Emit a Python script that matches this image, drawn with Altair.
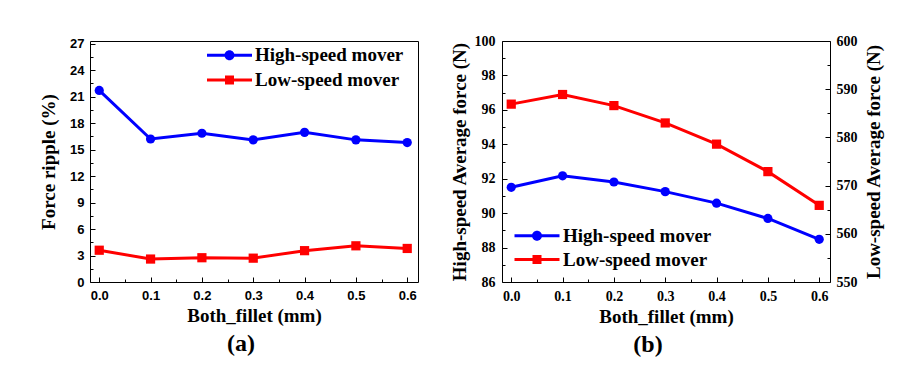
import altair as alt
import pandas as pd

# ---------------- data ----------------
fillet = [0.0, 0.1, 0.2, 0.3, 0.4, 0.5, 0.6]
series_names = ["High-speed mover", "Low-speed mover"]
series_colors = ["#0000FF", "#FF0000"]
series_shapes = ["circle", "square"]

ripple_high = [21.7, 16.2, 16.85, 16.1, 16.95, 16.1, 15.8]
ripple_low = [3.6, 2.6, 2.75, 2.7, 3.55, 4.1, 3.8]
force_high = [91.5, 92.17, 91.81, 91.25, 90.58, 89.69, 88.48]
force_low = [586.9, 588.9, 586.6, 583.0, 578.6, 572.9, 565.9]

x_major = [0.0, 0.1, 0.2, 0.3, 0.4, 0.5, 0.6]
x_minor = [0.05, 0.15, 0.25, 0.35, 0.45, 0.55]
ripple_major = [0, 3, 6, 9, 12, 15, 18, 21, 24, 27]
ripple_minor = [1.5, 4.5, 7.5, 10.5, 13.5, 16.5, 19.5, 22.5, 25.5]
high_major = [86, 88, 90, 92, 94, 96, 98, 100]
high_minor = [87, 89, 91, 93, 95, 97, 99]
low_major = [550, 560, 570, 580, 590, 600]
low_minor = [555, 565, 575, 585, 595]

x_title = "Both_fillet (mm)"
ripple_title = "Force ripple (%)"
high_title = "High-speed Average force (N)"
low_title = "Low-speed Average force (N)"
panel_titles = ["(a)", "(b)"]

# legend symbols: a filled bar (the line) with a filled marker in the middle,
# both drawn clockwise so that they merge into one filled shape
legend_paths = [
    "M-2.25,-0.15L2.25,-0.15L2.25,0.15L-2.25,0.15Z"
    "M-0.5,0A0.5,0.5 0 1,1 0.5,0A0.5,0.5 0 1,1 -0.5,0Z",
    "M-2.25,-0.15L2.25,-0.15L2.25,0.15L-2.25,0.15Z"
    "M-0.45,-0.45L0.45,-0.45L0.45,0.45L-0.45,0.45Z",
]

df_a = pd.DataFrame({
    "fillet": fillet + fillet,
    "value": ripple_high + ripple_low,
    "series": [series_names[0]] * len(fillet) + [series_names[1]] * len(fillet),
})
df_b_high = pd.DataFrame({"fillet": fillet, "value": force_high, "series": series_names[0]})
df_b_low = pd.DataFrame({"fillet": fillet, "value": force_low, "series": series_names[1]})

# ---------------- styling helpers ----------------
SERIF = "Liberation Serif"
SANS = "Liberation Sans"
W, H = 328, 241
TITLE_SIZE = 19


def neg(v):
    return {"expr": str(-v)}


def major_axis(orient, values, title, label_font, label_size, fmt=None,
               label_pad=11, title_pad=10, title_angle=None, title_baseline=None):
    kw = dict(orient=orient, values=values, title=title, tickSize=neg(5),
              tickColor="black", tickWidth=1, labelPadding=label_pad,
              labelFont=label_font, labelFontSize=label_size, labelFontWeight="bold",
              labelColor="black", labelFlush=False, labelOverlap=False,
              titleFont=SERIF, titleFontSize=TITLE_SIZE, titleFontWeight="bold",
              titleColor="black", titlePadding=title_pad, domain=False, grid=False)
    if fmt:
        kw["format"] = fmt
    if title_angle is not None:
        kw["titleAngle"] = title_angle
    if title_baseline is not None:
        kw["titleBaseline"] = title_baseline
    return alt.Axis(**kw)


def minor_axis(orient, values):
    return alt.Axis(orient=orient, values=values, title=None, labels=False,
                    tickSize=neg(3), tickColor="black", tickWidth=1,
                    domain=False, grid=False)


xs = alt.Scale(domain=[-0.018, 0.621], nice=False, zero=False)
color = alt.Color("series:N", scale=alt.Scale(domain=series_names, range=series_colors), legend=None)
shape = alt.Shape("series:N", scale=alt.Scale(domain=series_names, range=series_shapes), legend=None)


def legend_layer(base, yscale, idx, lx, ly, offset):
    """One-entry legend (line + marker symbol) for series idx, from an invisible layer."""
    leg = alt.Legend(title=None, orient="none", legendX=lx, legendY=ly,
                     symbolSize=400, symbolStrokeWidth=0, symbolOpacity=1,
                     symbolFillColor=series_colors[idx], symbolStrokeColor=series_colors[idx],
                     labelFont=SERIF, labelFontSize=TITLE_SIZE, labelFontWeight="bold",
                     labelColor="black", labelOffset=offset, labelLimit=400, padding=0)
    return base.mark_point(filled=True, opacity=0, clip=True,
                           fill=series_colors[idx], fillOpacity=1).encode(
        x=alt.X("fillet:Q", scale=xs, axis=None),
        y=alt.Y("value:Q", scale=yscale, axis=None),
        shape=alt.Shape("series:N",
                        scale=alt.Scale(domain=[series_names[idx]], range=[legend_paths[idx]]),
                        legend=leg),
    )


def panel_title(text, dx):
    return alt.TitleParams(text, orient="bottom", font=SERIF, fontSize=24,
                           fontWeight="bold", color="black", offset=7, anchor="middle",
                           frame="group", dx=dx)


# ---------------- panel (a) ----------------
ys_a = alt.Scale(domain=[0, 27.3], nice=False, zero=False)
base_a = alt.Chart(df_a)
line_a = base_a.mark_line(strokeWidth=3).encode(
    x=alt.X("fillet:Q", scale=xs, axis=major_axis("bottom", x_major, x_title, SANS, 13, ".1f", label_pad=12, title_pad=4)),
    y=alt.Y("value:Q", scale=ys_a, axis=major_axis("left", ripple_major, ripple_title, SANS, 13, label_pad=11, title_pad=11)),
    color=color,
)
pts_a = base_a.mark_point(filled=True, size=85, opacity=1).encode(
    x=alt.X("fillet:Q", scale=xs, axis=None),
    y=alt.Y("value:Q", scale=ys_a, axis=None),
    color=color, shape=shape,
)
leg_a1 = legend_layer(base_a, ys_a, 0, 129.5, 4.3, 15.5)
leg_a2 = legend_layer(base_a, ys_a, 1, 129.5, 29.0, 15.5)
minor_a = base_a.mark_point(opacity=0, clip=True).encode(
    x=alt.X("fillet:Q", scale=xs, axis=minor_axis("bottom", x_minor)),
    y=alt.Y("value:Q", scale=ys_a, axis=minor_axis("left", ripple_minor)),
)
panel_a = alt.layer(line_a, pts_a, leg_a1, leg_a2, minor_a).resolve_scale(
    shape="independent"
).resolve_axis(x="independent", y="independent").properties(
    width=W, height=H, title=panel_title(panel_titles[0], -13),
)

# ---------------- panel (b) ----------------
ys_hi = alt.Scale(domain=[86, 100], nice=False, zero=False)
ys_lo = alt.Scale(domain=[550, 600], nice=False, zero=False)
base_hi = alt.Chart(df_b_high)
base_lo = alt.Chart(df_b_low)
line_hi = base_hi.mark_line(strokeWidth=3).encode(
    x=alt.X("fillet:Q", scale=xs, axis=major_axis("bottom", x_major, x_title, SERIF, 14, ".1f", label_pad=12, title_pad=4)),
    y=alt.Y("value:Q", scale=ys_hi, axis=major_axis("left", high_major, high_title, SERIF, 14, label_pad=12, title_pad=5)),
    color=color,
)
pts_hi = base_hi.mark_point(filled=True, size=85, opacity=1).encode(
    x=alt.X("fillet:Q", scale=xs, axis=None),
    y=alt.Y("value:Q", scale=ys_hi, axis=None),
    color=color, shape=shape,
)
line_lo = base_lo.mark_line(strokeWidth=3).encode(
    x=alt.X("fillet:Q", scale=xs, axis=None),
    y=alt.Y("value:Q", scale=ys_lo, axis=major_axis("right", low_major, low_title, SERIF, 14,
                                                     label_pad=11, title_pad=7, title_angle=270,
                                                     title_baseline="top")),
    color=color,
)
pts_lo = base_lo.mark_point(filled=True, size=85, opacity=1).encode(
    x=alt.X("fillet:Q", scale=xs, axis=None),
    y=alt.Y("value:Q", scale=ys_lo, axis=None),
    color=color, shape=shape,
)
leg_b1 = legend_layer(base_hi, ys_hi, 0, 25, 184.8, 16)
leg_b2 = legend_layer(base_hi, ys_hi, 1, 25, 208.5, 16)
minor_b1 = base_hi.mark_point(opacity=0, clip=True).encode(
    x=alt.X("fillet:Q", scale=xs, axis=minor_axis("bottom", x_minor)),
    y=alt.Y("value:Q", scale=ys_hi, axis=minor_axis("left", high_minor)),
)
minor_b2 = base_lo.mark_point(opacity=0, clip=True).encode(
    x=alt.X("fillet:Q", scale=xs, axis=None),
    y=alt.Y("value:Q", scale=ys_lo, axis=minor_axis("right", low_minor)),
)
panel_b = alt.layer(line_hi, pts_hi, line_lo, pts_lo, leg_b1, leg_b2, minor_b1, minor_b2).resolve_scale(
    y="independent", shape="independent"
).resolve_axis(x="independent", y="independent").properties(
    width=W, height=H, title=panel_title(panel_titles[1], -18),
)

chart = alt.hconcat(panel_a, panel_b, spacing=30).properties(
    padding={"left": 31, "top": 25, "right": 5, "bottom": 5},
    background="white",
).configure_view(stroke="black", strokeWidth=1)

chart.save("out.html", embed_options={"renderer": "svg", "actions": False})
